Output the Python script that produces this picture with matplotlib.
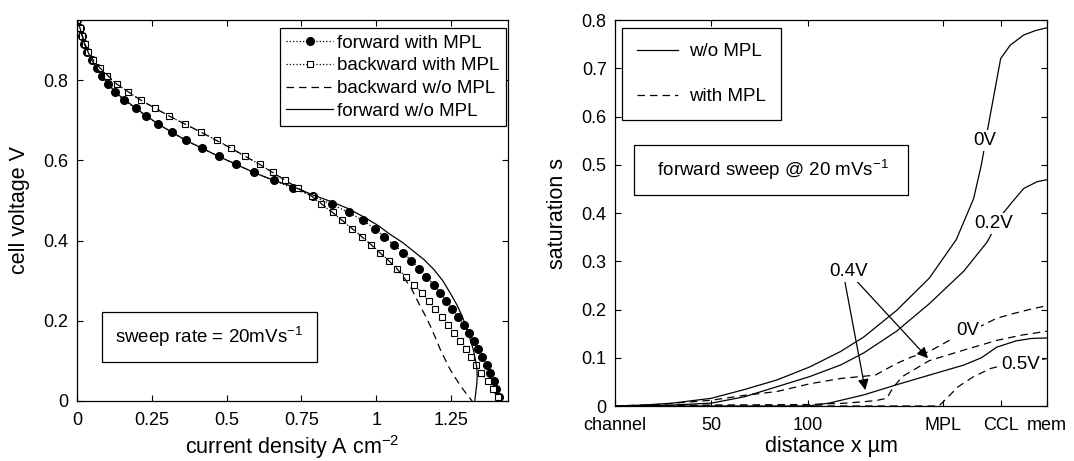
import matplotlib
matplotlib.use('Agg')
import matplotlib.pyplot as plt

plt.rcParams['font.family'] = ['Liberation Sans', 'DejaVu Sans']
plt.rcParams['mathtext.fontset'] = 'custom'
plt.rcParams['mathtext.rm'] = 'Liberation Sans'
plt.rcParams['mathtext.it'] = 'Liberation Sans:italic'
plt.rcParams['mathtext.default'] = 'regular'

# ---- polarisation curves (left) ----
# sampled cell voltages of the sweep, V
v_sweep = [0.95, 0.93, 0.91, 0.89, 0.87, 0.85, 0.83, 0.81, 0.79, 0.77, 0.75, 0.73,
           0.71, 0.69, 0.67, 0.65, 0.63, 0.61, 0.59, 0.57, 0.55, 0.53, 0.51, 0.49,
           0.47, 0.45, 0.43, 0.41, 0.39, 0.37, 0.35, 0.33, 0.31, 0.29, 0.27, 0.25,
           0.23, 0.21, 0.19, 0.17, 0.15, 0.13, 0.11, 0.09, 0.07, 0.05, 0.03, 0.01]
# current density, A cm-2
i_fwd_mpl = [0.000, 0.010, 0.018, 0.025, 0.035, 0.049, 0.066, 0.085, 0.105, 0.127,
             0.158, 0.196, 0.231, 0.272, 0.317, 0.363, 0.419, 0.473, 0.531, 0.590,
             0.657, 0.723, 0.790, 0.852, 0.908, 0.955, 0.994, 1.027, 1.058, 1.089,
             1.117, 1.142, 1.166, 1.192, 1.214, 1.234, 1.253, 1.273, 1.292, 1.309,
             1.325, 1.339, 1.353, 1.370, 1.381, 1.392, 1.401, 1.409]
i_bwd_mpl = [0.000, 0.010, 0.018, 0.026, 0.037, 0.054, 0.077, 0.101, 0.133, 0.172,
             0.213, 0.261, 0.309, 0.361, 0.415, 0.467, 0.515, 0.562, 0.610, 0.654,
             0.696, 0.740, 0.785, 0.815, 0.854, 0.885, 0.919, 0.952, 0.982, 1.013,
             1.041, 1.069, 1.100, 1.125, 1.153, 1.175, 1.197, 1.220, 1.240, 1.259,
             1.281, 1.300, 1.317, 1.334, 1.351, 1.372, 1.390, 1.406]

i_fwd_nompl = [0.000, 0.010, 0.025, 0.049, 0.085, 0.127, 0.196, 0.272, 0.363, 0.473,
               0.590, 0.657, 0.720, 0.790, 0.846, 0.905, 0.958, 1.005, 1.047, 1.088,
               1.125, 1.160, 1.192, 1.222, 1.247, 1.269, 1.287, 1.302, 1.314, 1.324,
               1.331, 1.336, 1.337, 1.336, 1.333, 1.329]
v_fwd_nompl = [0.95, 0.93, 0.89, 0.85, 0.81, 0.77, 0.73, 0.69, 0.65, 0.61,
               0.57, 0.55, 0.535, 0.513, 0.498, 0.480, 0.459, 0.438, 0.415, 0.395,
               0.373, 0.352, 0.328, 0.300, 0.269, 0.240, 0.211, 0.182, 0.153, 0.128,
               0.103, 0.082, 0.061, 0.044, 0.025, 0.0]

i_bwd_nompl = [0.000, 0.010, 0.026, 0.054, 0.077, 0.133, 0.213, 0.309, 0.415, 0.515,
               0.610, 0.696, 0.785, 0.854, 0.919, 0.982, 1.041, 1.069, 1.094, 1.119,
               1.147, 1.165, 1.181, 1.198, 1.214, 1.231, 1.247, 1.267, 1.287, 1.304,
               1.320]
v_bwd_nompl = [0.95, 0.93, 0.89, 0.85, 0.83, 0.79, 0.75, 0.71, 0.67, 0.63,
               0.59, 0.55, 0.51, 0.47, 0.43, 0.39, 0.35, 0.33, 0.306, 0.278,
               0.236, 0.211, 0.186, 0.157, 0.128, 0.102, 0.078, 0.054, 0.032, 0.015,
               0.0]

# ---- liquid saturation profiles (right), x in um ----
x_0v = [0, 15, 30, 50, 67, 84, 101, 117, 129, 146, 163, 177, 186, 190, 194, 200,
        205, 212, 218, 224]
s_0v = [0, 0.002, 0.006, 0.016, 0.034, 0.054, 0.081, 0.113, 0.143, 0.198, 0.265,
        0.345, 0.430, 0.500, 0.590, 0.720, 0.748, 0.769, 0.778, 0.784]
x_02v = [0, 30, 50, 67, 84, 101, 117, 129, 146, 163, 181, 193, 197, 201, 206, 212,
         219, 224]
s_02v = [0, 0.002, 0.006, 0.019, 0.040, 0.061, 0.085, 0.110, 0.155, 0.212, 0.280,
         0.340, 0.370, 0.398, 0.423, 0.451, 0.465, 0.469]
x_04v = [0, 50, 100, 111, 129, 146, 163, 181, 190, 198, 208, 216, 224]
s_04v = [0, 0, 0, 0.006, 0.023, 0.044, 0.064, 0.085, 0.100, 0.122, 0.135, 0.140, 0.141]

x_0v_mpl = [0, 22, 50, 67, 84, 101, 117, 135, 140, 146, 154, 163, 172, 183, 190,
            198, 207, 216, 224]
s_0v_mpl = [0, 0.003, 0.012, 0.022, 0.030, 0.046, 0.057, 0.064, 0.075, 0.088, 0.102,
            0.113, 0.133, 0.155, 0.166, 0.182, 0.192, 0.201, 0.208]
x_04v_mpl = [0, 50, 100, 120, 135, 141, 144, 149, 163, 181, 198, 211, 224]
s_04v_mpl = [0, 0.002, 0.003, 0.006, 0.011, 0.016, 0.037, 0.061, 0.094, 0.116, 0.136,
             0.147, 0.155]
x_05v_mpl = [0, 100, 140, 168, 170, 173, 178, 186, 195, 205, 214, 224]
s_05v_mpl = [0, 0, 0, 0, 0.008, 0.020, 0.040, 0.061, 0.078, 0.088, 0.094, 0.098]

dist_ticks = [0, 50, 100, 170, 200, 224]
dist_labels = ['channel', '50', '100', 'MPL', 'CCL', 'mem']

lw = 0.9
fs = 13.5

fig = plt.figure(figsize=(10.74, 4.61), dpi=100)
ax1 = fig.add_axes([0.0717, 0.1302, 0.4013, 0.8265])
ax2 = fig.add_axes([0.5726, 0.1193, 0.4022, 0.8373])

for ax in (ax1, ax2):
    ax.tick_params(direction='in', top=True, right=True, length=4, width=0.8,
                   labelsize=13, pad=6)
    ax.tick_params(axis='x', pad=8)
    for sp in ax.spines.values():
        sp.set_linewidth(0.9)

# left panel
ax1.plot(i_fwd_mpl, v_sweep, ':', color='k', lw=lw, marker='o', ms=5.5,
         mfc='k', mec='k', label='forward with MPL')
ax1.plot(i_bwd_mpl, v_sweep, ':', color='k', lw=lw, marker='s', ms=3.8,
         mfc='white', mec='k', mew=0.8, label='backward with MPL')
ax1.plot(i_bwd_nompl, v_bwd_nompl, '--', color='k', lw=lw, dashes=(6, 4),
         label='backward w/o MPL')
ax1.plot(i_fwd_nompl, v_fwd_nompl, '-', color='k', lw=lw, label='forward w/o MPL')

ax1.set_xlim(0, 1.44)
ax1.set_ylim(0, 0.95)
ax1.set_xticks([0, 0.25, 0.5, 0.75, 1, 1.25])
ax1.set_xticklabels(['0', '0.25', '0.5', '0.75', '1', '1.25'])
ax1.set_yticks([0, 0.2, 0.4, 0.6, 0.8])
ax1.set_yticklabels(['0', '0.2', '0.4', '0.6', '0.8'])
ax1.set_xlabel('current density A cm$^{-2}$', fontsize=15.5, labelpad=3)
ax1.set_ylabel('cell voltage V', fontsize=15.5, labelpad=10)

leg1 = ax1.legend(loc='upper right', bbox_to_anchor=(0.995, 0.979), fontsize=fs,
                  frameon=True, fancybox=False, framealpha=1, edgecolor='k',
                  handlelength=2.5, handletextpad=0.2, labelspacing=0.3,
                  borderpad=0.35, borderaxespad=0)
leg1.get_frame().set_linewidth(0.9)

ax1.text(0.4425, 0.1595, 'sweep rate = 20mVs$^{-1}$', fontsize=fs,
         ha='center', va='center',
         bbox=dict(boxstyle='square,pad=0.7', fc='white', ec='k', lw=0.9))

# right panel
ax2.plot(x_0v, s_0v, '-', color='k', lw=lw, label='w/o MPL')
ax2.plot(x_02v, s_02v, '-', color='k', lw=lw)
ax2.plot(x_04v, s_04v, '-', color='k', lw=lw)
ax2.plot(x_0v_mpl, s_0v_mpl, '--', color='k', lw=lw, dashes=(6, 4), label='with MPL')
ax2.plot(x_04v_mpl, s_04v_mpl, '--', color='k', lw=lw, dashes=(6, 4))
ax2.plot(x_05v_mpl, s_05v_mpl, '--', color='k', lw=lw, dashes=(6, 4))

ax2.set_xlim(0, 224)
ax2.set_ylim(0, 0.8)
ax2.set_xticks(dist_ticks)
ax2.set_xticklabels(dist_labels)
ax2.set_yticks([0, 0.1, 0.2, 0.3, 0.4, 0.5, 0.6, 0.7, 0.8])
ax2.set_yticklabels(['0', '0.1', '0.2', '0.3', '0.4', '0.5', '0.6', '0.7', '0.8'])
ax2.set_xlabel('distance x µm', fontsize=15.5, labelpad=1)
ax2.set_ylabel('saturation s', fontsize=15.5, labelpad=10)

leg2 = ax2.legend(loc='upper left', bbox_to_anchor=(0.016, 0.979), fontsize=fs,
                  frameon=True, fancybox=False, framealpha=1, edgecolor='k',
                  handlelength=2.2, handletextpad=0.6, labelspacing=1.5,
                  borderpad=0.8, borderaxespad=0)
leg2.get_frame().set_linewidth(0.9)

ax2.text(81, 0.4897, '  forward sweep @ 20 mVs$^{-1}$  ', fontsize=fs,
         ha='center', va='center',
         bbox=dict(boxstyle='square,pad=0.7', fc='white', ec='k', lw=0.9))

lab_box = dict(boxstyle='square,pad=0.1', fc='white', ec='none')
ax2.text(192, 0.551, '0V', fontsize=fs, ha='center', va='center', bbox=lab_box, zorder=5)
ax2.text(196.5, 0.379, '0.2V', fontsize=fs, ha='center', va='center', bbox=lab_box, zorder=5)
ax2.text(183, 0.156, '0V', fontsize=fs, ha='center', va='center', bbox=lab_box, zorder=5)
ax2.text(210.5, 0.085, '0.5V', fontsize=fs, ha='center', va='center', bbox=lab_box, zorder=5)
ax2.text(121, 0.278, '0.4V', fontsize=fs, ha='center', va='center', bbox=lab_box, zorder=5)

arrow = dict(arrowstyle='-|>', color='k', lw=0.9, mutation_scale=16,
             shrinkA=0, shrinkB=0)
ax2.annotate('', xy=(129.8, 0.033), xytext=(119.3, 0.256), arrowprops=arrow)
ax2.annotate('', xy=(162.3, 0.099), xytext=(123.7, 0.266), arrowprops=arrow)

fig.savefig('out.png', dpi=100)
